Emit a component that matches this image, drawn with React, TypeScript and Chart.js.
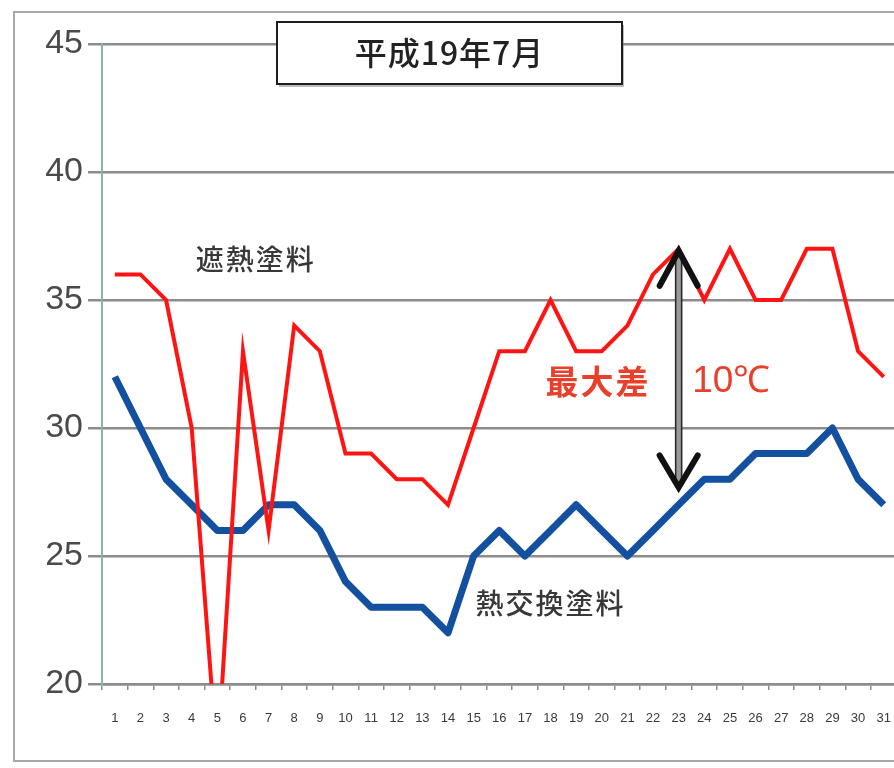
import React, { useEffect, useRef } from "react";
import { Chart, registerables } from "chart.js";

Chart.register(...registerables);

const days = Array.from({ length: 31 }, (_, i) => String(i + 1));
const shieldPaint = [36, 36, 35, 30, 17, 33, 26, 34, 33, 29, 29, 28, 28, 27, 30, 33, 33, 35, 33, 33, 34, 36, 37, 35, 37, 35, 35, 37, 37, 33, 32];
const exchangePaint = [32, 30, 28, 27, 26, 26, 27, 27, 26, 24, 23, 23, 23, 22, 25, 26, 25, 26, 27, 26, 25, 26, 27, 28, 28, 29, 29, 29, 30, 28, 27];
const yTicks = [20, 25, 30, 35, 40, 45];
const titleText = "平成19年7月";
const shieldLabel = "遮熱塗料";
const exchangeLabel = "熱交換塗料";
const diffLabel = "最大差";
const diffValue = "10℃";

const CJK = '"Noto Sans CJK JP", "Noto Sans", sans-serif';
const CANVAS_W = 912;

const annotations = {
  id: "annotations",
  beforeDraw(chart: any) {
    const ctx = chart.ctx;
    ctx.save();
    ctx.fillStyle = "#ffffff";
    ctx.fillRect(0, 0, chart.width, chart.height);
    ctx.strokeStyle = "#a8a8a8";
    ctx.lineWidth = 2;
    ctx.strokeRect(14, 12, chart.width + 20, 749);
    ctx.restore();
  },
  afterDatasetsDraw(chart: any) {
    const ctx = chart.ctx;
    const xs = chart.scales.x;
    const ys = chart.scales.y;
    ctx.save();
    ctx.textAlign = "center";
    ctx.textBaseline = "middle";
    ctx.fillStyle = "#383838";
    ctx.font = `500 28px ${CJK}`;
    (ctx as any).letterSpacing = "2px";
    ctx.fillText(shieldLabel, xs.getPixelForValue(5.5), ys.getPixelForValue(36.6));
    ctx.fillText(exchangeLabel, xs.getPixelForValue(17.0), ys.getPixelForValue(23.15));
    ctx.fillStyle = "#e8402a";
    ctx.font = `700 33px ${CJK}`;
    ctx.fillText(diffLabel, xs.getPixelForValue(18.85), ys.getPixelForValue(31.8));
    (ctx as any).letterSpacing = "0px";
    ctx.font = `400 37px "Liberation Sans", Arial, sans-serif`;
    ctx.fillText(diffValue, xs.getPixelForValue(24.05), ys.getPixelForValue(31.8));

    // double arrow at day 23
    const ax = xs.getPixelForValue(22);
    const yTop = ys.getPixelForValue(37);
    const yBot = ys.getPixelForValue(27.6);
    ctx.fillStyle = "#9a9a9a";
    ctx.fillRect(ax - 3, yTop + 4, 6, yBot - yTop - 8);
    ctx.strokeStyle = "#2a2a2a";
    ctx.lineWidth = 1.6;
    ctx.beginPath();
    ctx.moveTo(ax - 3, yTop + 4);
    ctx.lineTo(ax - 3, yBot - 4);
    ctx.moveTo(ax + 3, yTop + 4);
    ctx.lineTo(ax + 3, yBot - 4);
    ctx.stroke();
    ctx.strokeStyle = "#111111";
    ctx.lineWidth = 6;
    ctx.lineCap = "round";
    ctx.lineJoin = "miter";
    ctx.beginPath();
    ctx.moveTo(ax - 19, yTop + 37);
    ctx.lineTo(ax, yTop + 2);
    ctx.lineTo(ax + 19, yTop + 37);
    ctx.stroke();
    ctx.beginPath();
    ctx.moveTo(ax - 19, yBot - 34);
    ctx.lineTo(ax, yBot - 2);
    ctx.lineTo(ax + 19, yBot - 34);
    ctx.stroke();
    ctx.restore();
  },
  afterDraw(chart: any) {
    const ctx = chart.ctx;
    const w = 345;
    const h = 62;
    const top = 22;
    const left = 277;
    ctx.save();
    ctx.fillStyle = "rgba(120,120,120,0.5)";
    ctx.fillRect(left + 2, top + 3, w, h);
    ctx.fillStyle = "#ffffff";
    ctx.fillRect(left, top, w, h);
    ctx.strokeStyle = "#1e1e1e";
    ctx.lineWidth = 2;
    ctx.strokeRect(left, top, w, h);
    ctx.fillStyle = "#222222";
    ctx.textAlign = "center";
    ctx.textBaseline = "middle";
    ctx.font = `500 32px ${CJK}`;
    (ctx as any).letterSpacing = "1px";
    ctx.fillText(titleText, left + w / 2, top + h / 2);
    ctx.restore();
  },
};

export default function App() {
  const ref = useRef<HTMLCanvasElement | null>(null);
  useEffect(() => {
    if (!ref.current) return;
    const chart = new Chart(ref.current, {
      type: "line",
      data: {
        labels: days,
        datasets: [
          {
            label: shieldLabel,
            data: shieldPaint,
            borderColor: "#ff1414",
            borderWidth: 4,
            pointRadius: 0,
            tension: 0,
            clip: { left: 5, top: 5, right: 5, bottom: 0 } as any,
          },
          {
            label: exchangeLabel,
            data: exchangePaint,
            borderColor: "#1450a0",
            borderWidth: 7,
            pointRadius: 0,
            tension: 0,
            borderJoinStyle: "round",
            clip: { left: 5, top: 5, right: 5, bottom: 0 } as any,
          },
        ],
      },
      options: {
        responsive: false,
        animation: false,
        devicePixelRatio: 1,
        layout: { padding: { top: 44, right: 4.4, bottom: 0, left: 0 } },
        plugins: {
          legend: { display: false },
          title: { display: false },
          tooltip: { enabled: false },
        },
        scales: {
          x: {
            offset: true,
            grid: {
              offset: true,
              drawOnChartArea: false,
              drawTicks: true,
              tickLength: 6,
              color: "#8c8c8c",
              lineWidth: 1.5,
            },
            border: { color: "#8c8c8c", width: 2.5 },
            ticks: {
              color: "#3a3a3a",
              font: { family: '"Liberation Sans", Arial, sans-serif', size: 13 },
              padding: 21,
              maxRotation: 0,
              autoSkip: false,
            },
            afterFit(scale: any) {
              scale.height = 84;
            },
          },
          y: {
            min: 20,
            max: 45,
            afterBuildTicks(scale: any) {
              scale.ticks = yTicks.map((v) => ({ value: v }));
            },
            grid: {
              color: "#8c8c8c",
              lineWidth: 2.5,
              tickLength: 14,
              drawTicks: true,
            },
            border: { color: "#8fb0aa", width: 2 },
            ticks: {
              color: "#4a4a4a",
              font: { family: '"Liberation Sans", Arial, sans-serif', size: 34 },
              padding: 5,
            },
            afterFit(scale: any) {
              scale.width = 102;
            },
          },
        },
      },
      plugins: [annotations],
    });
    return () => chart.destroy();
  }, []);
  return (
    <div
      style={{
        position: "fixed",
        left: 0,
        top: 0,
        width: 894,
        height: 768,
        overflow: "hidden",
        background: "#ffffff",
      }}
    >
      <canvas ref={ref} width={CANVAS_W} height={768} style={{ display: "block" }} />
    </div>
  );
}
